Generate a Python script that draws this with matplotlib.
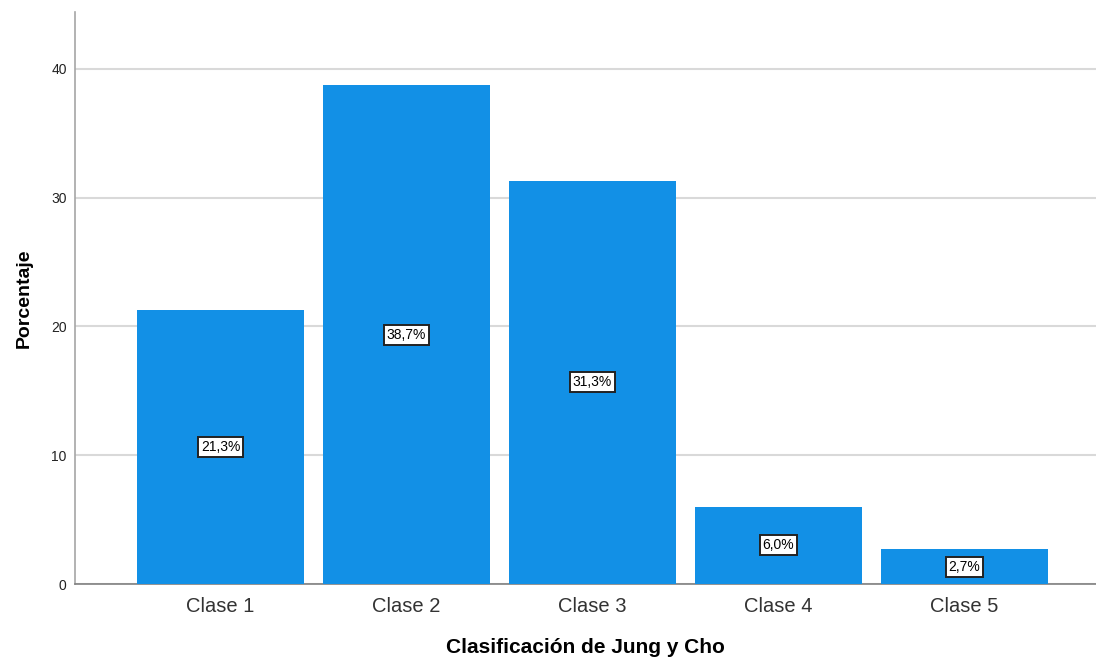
import numpy as np
import matplotlib
matplotlib.use("Agg")
import matplotlib.pyplot as plt

clases = ["Clase 1", "Clase 2", "Clase 3", "Clase 4", "Clase 5"]
porcentaje = [21.3, 38.7, 31.3, 6.0, 2.7]
etiquetas = ["21,3%", "38,7%", "31,3%", "6,0%", "2,7%"]

plt.rcParams['font.family'] = ['Liberation Sans', 'DejaVu Sans']

fig = plt.figure(figsize=(10.96, 6.58), dpi=100)
ax = fig.add_axes([75/1096, 1 - 584/658, 1 - 75/1096, (584 - 12)/658])

x = np.arange(len(clases))
ax.bar(x, porcentaje, width=0.9, color='#1290E6', zorder=3)

for xi, v, t in zip(x, porcentaje, etiquetas):
    ax.text(xi, v/2, t, ha='center', va='center', fontsize=10, color='black', zorder=4,
            bbox=dict(boxstyle='square,pad=0.22', facecolor='white', edgecolor='#222222', linewidth=1.4))

ax.set_xlim(-0.782, 4.707)
ax.set_ylim(0, 44.4)
ax.set_yticks([0, 10, 20, 30, 40])
ax.set_xticks(x)
ax.set_xticklabels(clases)

ax.yaxis.grid(True, color='#d9d9d9', linewidth=1.5, zorder=0)
ax.set_axisbelow(True)

for s in ['top', 'right']:
    ax.spines[s].set_visible(False)
ax.spines['left'].set_color('#a6a6a6')
ax.spines['left'].set_linewidth(1.2)
ax.spines['bottom'].set_color('#808080')
ax.spines['bottom'].set_linewidth(1.2)

ax.tick_params(axis='x', length=0, pad=9.5, labelsize=14.5, labelcolor='#333333')
ax.tick_params(axis='y', length=0, pad=6, labelsize=10, labelcolor='#222222')

ax.set_xlabel("Clasificación de Jung y Cho", fontsize=15, fontweight='bold', labelpad=16)
ax.set_ylabel("Porcentaje", fontsize=14, fontweight='bold', labelpad=13)

fig.savefig("out.png", dpi=100)
